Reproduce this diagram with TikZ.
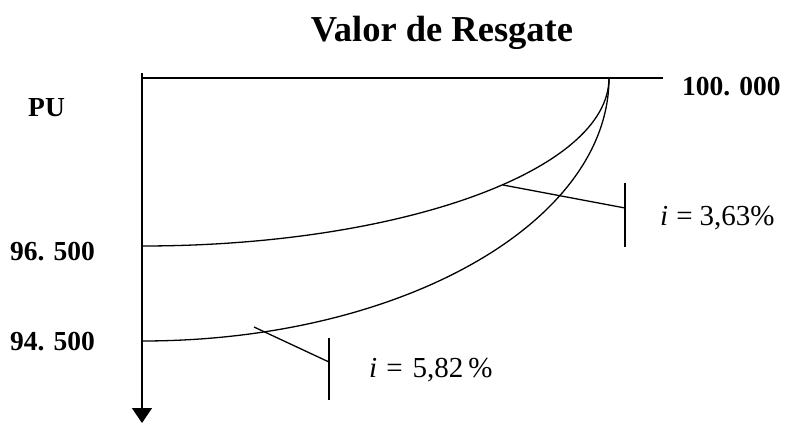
\documentclass[tikz,border=0pt]{standalone}
\usepackage{fontspec}
\setmainfont{Liberation Serif}
\usetikzlibrary{arrows.meta}
\begin{document}
\begin{tikzpicture}[x=1pt,y=-1pt,
  curve/.style={line width=1.3pt},
  axis/.style={line width=1.5pt},
  lbl/.style={font=\bfseries\fontsize{27.5}{27.5}\selectfont, inner sep=0pt, anchor=base west},
  rate/.style={font=\fontsize{29}{29}\selectfont, inner sep=0pt, anchor=base west}]
\useasboundingbox (0,0) rectangle (785,423);
% title
\node[inner sep=0pt, anchor=base, font=\bfseries\fontsize{36.5}{36.5}\selectfont] (title) at (442,41) {Valor de Resgate};
% axes
\coordinate (top) at (142,73);
\coordinate (bot) at (142,423);
\coordinate (hl) at (142,78);
\coordinate (hr) at (663,78);
\draw[axis, -{Triangle[width=20pt,length=15pt]}] (top) -- (bot);
\draw[axis] (hl) -- (hr);
% labels
\node[lbl] (pu) at (28,116) {PU};
\node[lbl] (v100) at (682,95) {100. 000};
\node[lbl] (v965) at (10,260) {96. 500};
\node[lbl] (v945) at (10,350) {94. 500};
% curves
\coordinate (c1) at (142,246);
\coordinate (c2) at (142,341);
\draw[curve] (c1) arc[start angle=90, end angle=0, x radius=467, y radius=168];
\draw[curve] (c2) arc[start angle=90, end angle=0, x radius=467, y radius=263];
% leaders
\coordinate (l1a) at (503,185);
\coordinate (l1b) at (625,208);
\coordinate (t1a) at (625,183);
\coordinate (t1b) at (625,247);
\draw[curve] (l1a) -- (l1b);
\draw[curve] (t1a) -- (t1b);
\coordinate (l2a) at (254,327);
\coordinate (l2b) at (329,362);
\coordinate (t2a) at (329,338);
\coordinate (t2b) at (329,400);
\draw[curve] (l2a) -- (l2b);
\draw[curve] (t2a) -- (t2b);
\node[rate] (r1) at (660,225) {\textit{i}\hspace{8pt}=\hspace{7pt}3,63\%};
\node[rate] (r2) at (369,377) {\textit{i}\hspace{9pt}=\hspace{10pt}5,82\hspace{5pt}\%};
\end{tikzpicture}
\end{document}
